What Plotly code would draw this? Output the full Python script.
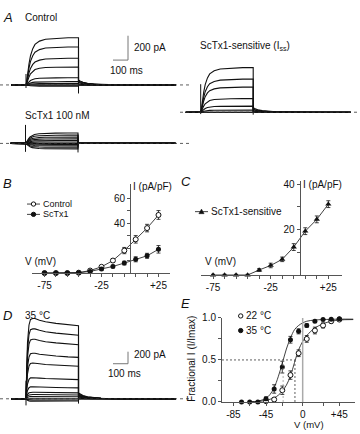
import plotly.graph_objects as go

W, H = 360, 434
FONT = "Liberation Sans, Arial, Helvetica, sans-serif"
INK = "#111111"
AX = "#555555"

# ---------------- data ----------------
# voltage-clamp protocol (ms from pulse onset)
T_START, T_PULSE, T_END = -100, 350, 1000
# normalised activation time course
ACT_T = [0, 5, 10, 20, 30, 45, 60, 90, 130, 200, 280, 350]
ACT_FRAC_22 = [0, 0.08, 0.22, 0.45, 0.62, 0.77, 0.86, 0.93, 0.97, 0.99, 1.0, 1.0]
ACT_FRAC_35 = [0, 0.4, 0.7, 0.92, 0.99, 1.0, 1.0, 0.98, 0.96, 0.94, 0.92, 0.91]
# normalised tail-current decay (ms after pulse end)
TAIL_T = [0, 10, 30, 60, 100, 150, 250, 400, 650]
TAIL_FRAC = [1, 0.8, 0.55, 0.35, 0.2, 0.1, 0.03, 0, 0]

# A: Control family (pA)
CTRL_STEP = [387, 312, 219, 147, 59, 27, 12, 4, -4, -10]
CTRL_TAIL = [40, 33, 25, 17, 8, 4, 2, 1, 0, 0]
CTRL_CAP = [-25, 90, -70, 40]      # onset min, onset max, offset min, offset max
# A: ScTx1 100 nM family (pA)
SCTX_STEP = [85, 68, 52, 38, 24, 12, 4, -8, -20, -32, -45]
SCTX_TAIL = [0, 0, 0, 0, 0, 0, 0, 0, 0, 0, 0]
SCTX_CAP = [-69, 152, -74, 72]
# A: ScTx1-sensitive family (pA)
SENS_STEP = [366, 272, 206, 112, 50, 18, 5, 0]
SENS_TAIL = [38, 28, 20, 12, 5, 2, 0, 0]
SENS_CAP = [-15, 230, -20, 40]
# D: 35 degC family (pA)
D_STEP = [1334, 1162, 989, 757, 594, 351, 200, 108, 70, 38, 10, -20, -40]
D_TAIL = [97, 85, 72, 58, 45, 30, 18, 10, 6, 3, 1, 0, 0]
D_CAP = [-110, 300, -80, 100]
SCALE_T, SCALE_I = 100, 200

# B / C: I-V relations (pA/pF)
V_IV = [-75, -65, -55, -45, -35, -25, -15, -5, 5, 15, 25]
CTRL_IV = [0, 0, 0, 0.3, 2, 5, 10, 18, 27, 36, 46.5]
CTRL_IV_ERR = [0.3, 0.3, 0.3, 0.4, 0.6, 1, 1.5, 2.5, 3, 3, 3.5]
SCTX_IV = [0, 0, 0, 0.3, 1.3, 3.3, 5.3, 8, 11, 13.8, 19]
SCTX_IV_ERR = [0.3, 0.3, 0.3, 0.3, 0.5, 0.8, 1, 1.5, 2, 2, 3]
SENS_IV = [0, 0, 0, 0, 2.2, 4.2, 6.9, 12.3, 19.3, 24.5, 31.2]
SENS_IV_ERR = [0.3, 0.3, 0.3, 0.3, 0.6, 1, 1, 1.5, 1.5, 1.5, 1.5]

# E: activation curves
E_V = [-75, -65, -55, -45, -35, -25, -15, -5, 5, 15, 25, 35, 45]
E35 = [0, 0, 0, 0.04, 0.155, 0.415, 0.74, 0.84, 0.91, 0.96, 0.98, 0.985, 0.99]
E35_ERR = [0.005, 0.005, 0.005, 0.02, 0.05, 0.07, 0.04, 0.03, 0.02, 0.01, 0.01, 0.01, 0.01]
E22_V = [-45, -35, -25, -15, -5, 5, 15, 25, 35, 45]
E22 = [0.01, 0.03, 0.14, 0.32, 0.58, 0.75, 0.85, 0.91, 0.96, 0.98]
E22_ERR = [0.01, 0.02, 0.05, 0.05, 0.04, 0.04, 0.04, 0.03, 0.02, 0.01]
FIT_V_35 = [-65, -55, -45, -40, -35, -30, -25, -20, -15, -10, -5, 0, 5, 15, 25, 45, 62]
FIT_35 = [0.002, 0.01, 0.045, 0.09, 0.17, 0.3, 0.46, 0.63, 0.76, 0.86, 0.91, 0.94, 0.96, 0.975, 0.98, 0.985, 0.985]
FIT_V_22 = [-65, -55, -45, -35, -30, -25, -20, -15, -10, -5, 0, 5, 10, 15, 25, 35, 45, 62]
FIT_22 = [0.002, 0.006, 0.02, 0.05, 0.08, 0.13, 0.2, 0.31, 0.47, 0.62, 0.72, 0.79, 0.84, 0.88, 0.93, 0.96, 0.975, 0.98]
VHALF_35, VHALF_22 = -24, -9.5

# ---------------- helpers ----------------
def pxx(x):
    return x / W


def pxy(y):
    return 1 - y / H


fig = go.Figure()
layout = {}
shapes = []
annotations = []


def trace_axes(n, xpx, t0px, ypx, base, s):
    """invisible axes for a family of current traces; pixel layout -> data range"""
    tx = 0.15  # px per ms
    layout["xaxis" + n] = dict(domain=[pxx(xpx[0]), pxx(xpx[1])],
                               range=[(xpx[0] - t0px) / tx, (xpx[1] - t0px) / tx],
                               visible=False, anchor="y" + n)
    layout["yaxis" + n] = dict(domain=[pxy(ypx[1]), pxy(ypx[0])],
                               range=[(base - ypx[1]) / s, (base - ypx[0]) / s],
                               visible=False, anchor="x" + n)


def add_family(steps, tails, frac, cap, n):
    xa = "x" + n
    ya = "y" + n
    shapes.append(dict(type="line", xref=xa + " domain", x0=0, x1=1, yref=ya, y0=0, y1=0,
                       line=dict(color="#333333", width=0.8, dash="3px,3px")))
    for a, tl in zip(steps, tails):
        t = [T_START] + ACT_T + [T_PULSE + d for d in TAIL_T] + [T_END]
        i = [0] + [a * f for f in frac] + [tl * g for g in TAIL_FRAC] + [0]
        fig.add_trace(go.Scatter(x=t, y=i, mode="lines", line=dict(color=INK, width=1.1),
                                 xaxis=xa, yaxis=ya, hoverinfo="skip", showlegend=False))
    fig.add_trace(go.Scatter(x=[0, 0, None, T_PULSE, T_PULSE],
                             y=[cap[0], cap[1], None, cap[2], cap[3]],
                             mode="lines", line=dict(color=INK, width=1),
                             xaxis=xa, yaxis=ya, hoverinfo="skip", showlegend=False))


def scale_bar(n, t_corner, i_corner):
    xa, ya = "x" + n, "y" + n
    shapes.append(dict(type="line", xref=xa, yref=ya, x0=t_corner, x1=t_corner,
                       y0=i_corner, y1=i_corner + SCALE_I, line=dict(color="#777777", width=1)))
    shapes.append(dict(type="line", xref=xa, yref=ya, x0=t_corner - SCALE_T, x1=t_corner,
                       y0=i_corner, y1=i_corner, line=dict(color="#777777", width=1)))


def txt(s, x, y, size=10, anchor="left", angle=0):
    annotations.append(dict(text=s, x=pxx(x), y=pxy(y), xref="paper", yref="paper",
                            xanchor=anchor, yanchor="middle", showarrow=False, textangle=angle,
                            borderpad=0, font=dict(size=size, family=FONT, color=INK)))


def iv_axes(n, xpx, xr, ypx, yr, xt, xtt, yt, ytt, yaxis_free=True):
    tick = dict(size=10, family=FONT, color=INK)
    layout["xaxis" + n] = dict(domain=[pxx(xpx[0]), pxx(xpx[1])], range=xr, anchor="y" + n,
                               showline=True, linecolor=AX, linewidth=1, ticks="outside",
                               ticklen=3, tickcolor=AX, tickvals=xt, ticktext=xtt,
                               showgrid=False, zeroline=False, tickfont=tick)
    ya = dict(domain=[pxy(ypx[1]), pxy(ypx[0])], range=yr, showline=True, linecolor=AX,
              linewidth=1, ticks="outside", ticklen=3, tickcolor=AX, tickvals=yt,
              ticktext=ytt, showgrid=False, zeroline=False, tickfont=tick)
    if yaxis_free:
        d0, d1 = pxx(xpx[0]), pxx(xpx[1])
        ya["anchor"] = "free"
        ya["position"] = d0 + (0 - xr[0]) / (xr[1] - xr[0]) * (d1 - d0)
    else:
        ya["anchor"] = "x" + n
    layout["yaxis" + n] = ya


def leg_line(x0, x1, y):
    shapes.append(dict(type="line", xref="paper", yref="paper", x0=pxx(x0), x1=pxx(x1),
                       y0=pxy(y), y1=pxy(y), line=dict(color=INK, width=0.8)))


def leg_circle(x, y, filled, r=2.2):
    shapes.append(dict(type="circle", xref="paper", yref="paper", x0=pxx(x - r), x1=pxx(x + r),
                       y0=pxy(y + r), y1=pxy(y - r), fillcolor=INK if filled else "white",
                       line=dict(color=INK, width=1)))


def leg_triangle(x, y, r=2.6):
    path = "M {} {} L {} {} L {} {} Z".format(pxx(x - r), pxy(y + r * 0.8), pxx(x + r),
                                              pxy(y + r * 0.8), pxx(x), pxy(y - r))
    shapes.append(dict(type="path", xref="paper", yref="paper", path=path, fillcolor=INK,
                       line=dict(color=INK, width=0.5)))


# ---------------- panel A / D traces ----------------
trace_axes("", (0, 190), 26, (22, 95), 81, 0.125)
trace_axes("2", (0, 190), 25.5, (112, 162), 141, 0.125)
trace_axes("3", (180, 360), 200.7, (48, 125), 109, 0.125)
trace_axes("4", (0, 190), 26, (312, 422), 403, 0.0617)
add_family(CTRL_STEP, CTRL_TAIL, ACT_FRAC_22, CTRL_CAP, "")
add_family(SCTX_STEP, SCTX_TAIL, ACT_FRAC_22, SCTX_CAP, "2")
add_family(SENS_STEP, SENS_TAIL, ACT_FRAC_22, SENS_CAP, "3")
add_family(D_STEP, D_TAIL, ACT_FRAC_35, D_CAP, "4")
scale_bar("", 680, 204)
scale_bar("4", 680, 583)

# ---------------- panel B ----------------
xt = V_IV
xtt = ["-75", "", "", "", "", "-25", "", "", "", "", "+25"]
iv_axes("5", (32, 170), [-86, 35.1], (183, 274), [0, 71], xt, xtt,
        [10, 20, 30, 40, 50, 60], ["", "", "", "40", "", "60"])
fig.add_trace(go.Scatter(x=V_IV, y=CTRL_IV, mode="lines+markers", name="Control",
                         line=dict(color=INK, width=0.8),
                         marker=dict(symbol="circle", size=5, color="white", line=dict(color=INK, width=1)),
                         error_y=dict(array=CTRL_IV_ERR, thickness=0.8, width=2, color=INK),
                         cliponaxis=False, xaxis="x5", yaxis="y5", showlegend=False))
fig.add_trace(go.Scatter(x=V_IV, y=SCTX_IV, mode="lines+markers", name="ScTx1",
                         line=dict(color=INK, width=0.8),
                         marker=dict(symbol="circle", size=5, color=INK),
                         error_y=dict(array=SCTX_IV_ERR, thickness=0.8, width=2, color=INK),
                         cliponaxis=False, xaxis="x5", yaxis="y5", showlegend=False))

# ---------------- panel C ----------------
iv_axes("6", (200.7, 341.7), [-85.7, 36.6], (180, 276), [0, 41.2], xt, xtt,
        [10, 20, 30, 40], ["", "20", "", "40"])
fig.add_trace(go.Scatter(x=V_IV, y=SENS_IV, mode="lines+markers", name="ScTx1-sensitive",
                         line=dict(color=INK, width=0.8),
                         marker=dict(symbol="triangle-up", size=5.5, color=INK),
                         error_y=dict(array=SENS_IV_ERR, thickness=0.8, width=2, color=INK),
                         cliponaxis=False, xaxis="x6", yaxis="y6", showlegend=False))

# ---------------- panel E ----------------
iv_axes("7", (222, 355), [-99, 64.2], (320, 406.3), [0, 1.0],
        [-85, -65, -45, -25, 0, 25, 45], ["-85", "", "-45", "", "0", "", "+45"],
        [0, 0.25, 0.5, 0.75, 1.0], ["0.0", "", "0.5", "", "1.0"], yaxis_free=False)
shapes.append(dict(type="line", xref="x7", yref="y7", x0=0, x1=0, y0=0, y1=1.0,
                   line=dict(color="#aaaaaa", width=1.5)))
shapes.append(dict(type="line", xref="x7", yref="y7", x0=-99, x1=VHALF_22, y0=0.5, y1=0.5,
                   line=dict(color="#333333", width=0.8, dash="2px,2px")))
shapes.append(dict(type="line", xref="x7", yref="y7", x0=VHALF_35, x1=VHALF_35, y0=0, y1=0.5,
                   line=dict(color="#999999", width=0.8, dash="2px,2px")))
shapes.append(dict(type="line", xref="x7", yref="y7", x0=VHALF_22, x1=VHALF_22, y0=0, y1=0.5,
                   line=dict(color="#333333", width=0.8, dash="2px,2px")))
fig.add_trace(go.Scatter(x=FIT_V_35, y=FIT_35, mode="lines", line=dict(color=INK, width=0.8, shape="spline"),
                         xaxis="x7", yaxis="y7", showlegend=False, hoverinfo="skip"))
fig.add_trace(go.Scatter(x=FIT_V_22, y=FIT_22, mode="lines", line=dict(color=INK, width=0.8, shape="spline"),
                         xaxis="x7", yaxis="y7", showlegend=False, hoverinfo="skip"))
fig.add_trace(go.Scatter(x=E22_V, y=E22, mode="markers", name="22 °C",
                         marker=dict(symbol="circle", size=5, color="white", line=dict(color=INK, width=1)),
                         error_y=dict(array=E22_ERR, thickness=0.8, width=2, color=INK),
                         cliponaxis=False, xaxis="x7", yaxis="y7", showlegend=False))
fig.add_trace(go.Scatter(x=E_V, y=E35, mode="markers", name="35 °C",
                         marker=dict(symbol="circle", size=5, color=INK),
                         error_y=dict(array=E35_ERR, thickness=0.8, width=2, color=INK),
                         cliponaxis=False, xaxis="x7", yaxis="y7", showlegend=False))

# ---------------- text ----------------
txt("<i>A</i>", 2, 12, size=13)
txt("Control", 24, 12)
txt("200 pA", 133, 43)
txt("100 ms", 109, 66)
txt("ScTx1 100 nM", 24, 112)
txt("ScTx1-sensitive (I<sub>ss</sub>)", 199, 41)

txt("<i>B</i>", 2, 182, size=13)
leg_line(27, 40, 203.2)
leg_circle(33.5, 203.2, False)
txt("Control", 42, 203.2, size=9)
leg_line(27, 40, 213.8)
leg_circle(33.5, 213.8, True)
txt("ScTx1", 42, 213.8, size=9)
txt("V (mV)", 24, 262)
txt("I (pA/pF)", 132, 185)

txt("<i>C</i>", 180, 180, size=13)
leg_line(195, 208, 211)
leg_triangle(201.5, 211)
txt("ScTx1-sensitive", 210, 211)
txt("V (mV)", 204, 262.5)
txt("I (pA/pF)", 302, 183)

txt("<i>D</i>", 2, 318, size=13)
txt("35 °C", 24, 318)
txt("200 pA", 133, 358)
txt("100 ms", 107, 377)

txt("<i>E</i>", 180, 305, size=13)
leg_circle(240.7, 318, False)
txt("22 °C", 245, 318)
leg_circle(240.7, 333, True)
txt("35 °C", 245, 333)
txt("Fractional I (I/Imax)", 192, 362, anchor="center", angle=-90)
txt("V (mV)", 309, 429, size=9.5, anchor="center")

fig.update_layout(width=W, height=H, margin=dict(l=0, r=0, t=0, b=0),
                  paper_bgcolor="white", plot_bgcolor="rgba(0,0,0,0)",
                  showlegend=False, shapes=shapes, annotations=annotations,
                  font=dict(family=FONT, size=10, color=INK), **layout)
fig.write_html("out.html", config={"displayModeBar": False},
               post_script="document.body.style.margin='0';document.body.style.padding='0';")
